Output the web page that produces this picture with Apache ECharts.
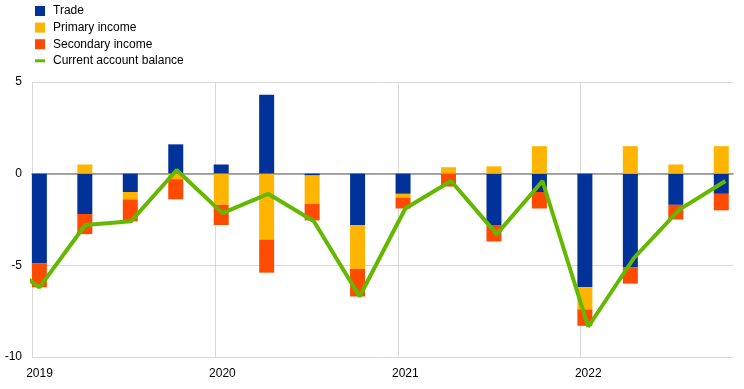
<!DOCTYPE html>
<html>
<head>
<meta charset="utf-8">
<script src="https://cdn.jsdelivr.net/npm/echarts@6/dist/echarts.min.js"></script>
<style>
html,body{margin:0;padding:0;background:#fff;}
#chart{width:744px;height:389px;}
</style>
</head>
<body>
<div id="chart"></div>
<script>
// Quarters 2019Q1 .. 2022Q4
var quarters = ['2019Q1','2019Q2','2019Q3','2019Q4','2020Q1','2020Q2','2020Q3','2020Q4',
                '2021Q1','2021Q2','2021Q3','2021Q4','2022Q1','2022Q2','2022Q3','2022Q4'];
var yearLabels = ['2019','2020','2021','2022'];
var trade     = [-4.9, -2.2, -1.0, 1.6, 0.5, 4.3, -0.1, -2.8, -1.1, 0.0, -2.8, -1.0, -6.2, -5.1, -1.7, -1.1];
var primary   = [0.0, 0.5, -0.4, -0.3, -1.7, -3.6, -1.55, -2.4, -0.2, 0.35, 0.4, 1.5, -1.2, 1.5, 0.5, 1.5];
var secondary = [-1.3, -1.1, -1.2, -1.1, -1.1, -1.8, -0.9, -1.5, -0.6, -0.7, -0.9, -0.9, -0.9, -0.9, -0.8, -0.9];
var balance   = [-6.2, -2.8, -2.6, 0.2, -2.15, -1.1, -2.6, -6.7, -1.9, -0.4, -3.3, -0.4, -8.35, -4.6, -1.95, -0.4];
var balancePrev = -4.4; // 2018Q4 value, clipped at the left edge

// geometry of the plot
var PL = 32, PR = 733, W = 744;
var XMAX = 15.33;                 // quarters shown on the value axis
var QW = (PR - PL) / XMAX;        // px per quarter
var BW = 15;                      // bar width
var OFF = (BW / 2) / QW;          // bar centre offset within a quarter
function pos(i){ return i + OFF; }
var lineData = [[pos(-1), balancePrev]].concat(balance.map(function(v,i){ return [pos(i), v]; }));
// category grid for stacked bars: category centre must land on bar centre
var g1Left = PL + BW / 2 - QW / 2;
var g1Right = W - (g1Left + QW * quarters.length);

var FONT = 'Arial, "Liberation Sans", sans-serif';
var chart = echarts.init(document.getElementById('chart'), null, {renderer:'canvas'});
chart.setOption({
  animation: false,
  textStyle: {fontFamily: FONT},
  legend: {
    orient: 'vertical', left: 30, top: 0,
    itemWidth: 10, itemHeight: 10, itemGap: 4.6,
    symbolKeepAspect: true,
    textStyle: {fontFamily: FONT, fontSize: 12, color: '#000', padding: [0,0,0,3]},
    data: [
      {name: 'Trade', icon: 'rect'},
      {name: 'Primary income', icon: 'rect'},
      {name: 'Secondary income', icon: 'rect'},
      {name: 'Current account balance', icon: 'path://M0,0h10v3h-10z'}
    ]
  },
  grid: [
    {left: PL, right: W - PR, top: 82, bottom: 32, containLabel: false},
    {left: g1Left, right: g1Right, top: 82, bottom: 32, containLabel: false}
  ],
  xAxis: [
    {
      gridIndex: 0, type: 'value', min: 0, max: XMAX, interval: 4,
      axisLine: {show: false}, axisTick: {show: false},
      splitLine: {show: true, showMaxLine: false, lineStyle: {color: '#d9d9d9', width: 1}},
      axisLabel: {
        margin: 11, fontSize: 12, color: '#000', fontFamily: FONT,
        showMaxLabel: false,
        formatter: function(v){
          var k = Math.round(v);
          if (Math.abs(v - k) > 1e-6 || k % 4 !== 0) return '';
          var lbl = yearLabels[k/4];
          return lbl ? '{a|' + lbl + '}' : '';
        },
        rich: {a: {padding: [0,0,0,15], fontSize: 12, color: '#000', fontFamily: FONT}}
      }
    },
    {
      gridIndex: 1, type: 'category', data: quarters, boundaryGap: true,
      show: false
    },
    {
      gridIndex: 0, type: 'value', min: 0, max: XMAX, position: 'bottom',
      axisLine: {show: true, onZero: true, onZeroAxisIndex: 0, lineStyle: {color: '#8c8c8c', width: 1.5}},
      axisTick: {show: false}, axisLabel: {show: false}, splitLine: {show: false}
    }
  ],
  yAxis: [
    {
      gridIndex: 0, type: 'value', min: -10, max: 5, interval: 5,
      axisLine: {show: false}, axisTick: {show: false},
      splitLine: {show: true, lineStyle: {color: '#d9d9d9', width: 1}},
      axisLabel: {margin: 10, fontSize: 12, color: '#000', fontFamily: FONT}
    },
    {
      gridIndex: 1, type: 'value', min: -10, max: 5, interval: 5, show: false,
      splitLine: {show: false}
    }
  ],
  series: [
    {name: 'Trade', type: 'bar', stack: 'ca', barWidth: BW, xAxisIndex: 1, yAxisIndex: 1,
     data: trade, itemStyle: {color: '#003299'}, z: 2},
    {name: 'Primary income', type: 'bar', stack: 'ca', barWidth: BW, xAxisIndex: 1, yAxisIndex: 1,
     data: primary, itemStyle: {color: '#FFB400'}, z: 2},
    {name: 'Secondary income', type: 'bar', stack: 'ca', barWidth: BW, xAxisIndex: 1, yAxisIndex: 1,
     data: secondary, itemStyle: {color: '#FF4B00'}, z: 2},
    {name: 'Current account balance', type: 'line', xAxisIndex: 0, yAxisIndex: 0,
     data: lineData, symbol: 'none', clip: true,
     lineStyle: {color: '#65B800', width: 4}, itemStyle: {color: '#65B800'}, z: 5}
  ]
});
</script>
</body>
</html>
